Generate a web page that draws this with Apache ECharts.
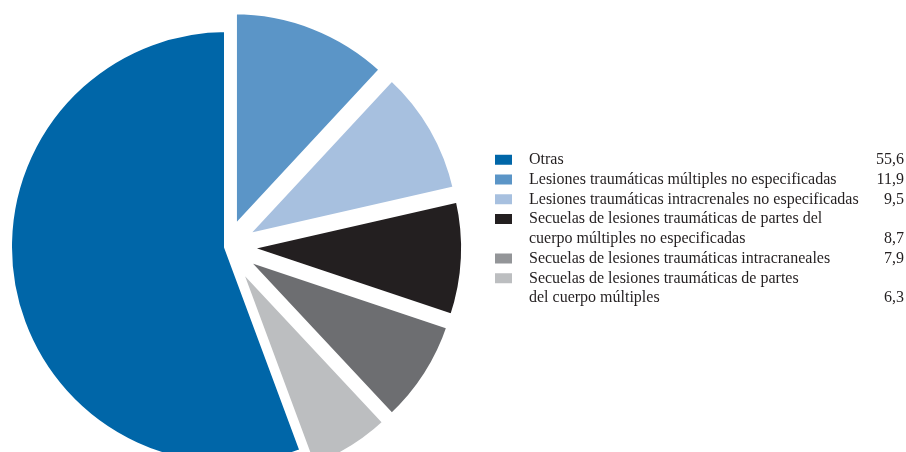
<!DOCTYPE html>
<html>
<head>
<meta charset="utf-8">
<script src="https://cdn.jsdelivr.net/npm/echarts@6/dist/echarts.min.js"></script>
<style>
  html, body { margin: 0; padding: 0; background: #ffffff; }
  #chart { width: 906px; height: 452px; }
</style>
</head>
<body>
<div id="chart"></div>
<script>
// Causes grouped by share (%)
const categories = [
  'Otras',
  'Lesiones traumáticas múltiples no especificadas',
  'Lesiones traumáticas intracrenales no especificadas',
  'Secuelas de lesiones traumáticas de partes del cuerpo múltiples no especificadas',
  'Secuelas de lesiones traumáticas intracraneales',
  'Secuelas de lesiones traumáticas de partes del cuerpo múltiples'
];
const values = [55.6, 11.9, 9.5, 8.7, 7.9, 6.3];
// Legend text split into the lines it is printed on
const legendLines = [
  ['Otras'],
  ['Lesiones traumáticas múltiples no especificadas'],
  ['Lesiones traumáticas intracrenales no especificadas'],
  ['Secuelas de lesiones traumáticas de partes del', 'cuerpo múltiples no especificadas'],
  ['Secuelas de lesiones traumáticas intracraneales'],
  ['Secuelas de lesiones traumáticas de partes', 'del cuerpo múltiples']
];
const sliceColors = ['#0066a8', '#5b95c7', '#a7c0df', '#231f20', '#6d6e71', '#bcbec0'];
const swatchColors = ['#0066a8', '#5b95c7', '#a7c0df', '#231f20', '#939598', '#bcbec0'];
// Slices drawn clockwise from 12 o'clock; "Otras" closes the circle
const pieOrder = [1, 2, 3, 4, 5, 0];

const FONT = '"Liberation Serif", "Times New Roman", serif';
const ROW = 19.75;
const FIRST_ROW = 158.3;

function fmt(v) { return v.toFixed(1).replace('.', ','); }

const pieData = pieOrder.map(i => ({
  name: categories[i],
  value: values[i],
  selected: i !== 0,
  itemStyle: { color: sliceColors[i] }
}));

const legends = [];
let row = 0;
categories.forEach((name, i) => {
  const lines = legendLines[i];
  const two = lines.length > 1;
  const center = FIRST_ROW + row * ROW;
  legends.push({
    left: 493,
    top: center - 6.5,
    orient: 'vertical',
    padding: 0,
    itemWidth: 19,
    itemHeight: 12,
    selectedMode: false,
    icon: 'rect',
    data: [{ name: name, itemStyle: { color: swatchColors[i] } }],
    formatter: function () {
      if (two) {
        return '{n|' + lines[0] + '}\n{n|' + lines[1] + '}{v|' + fmt(values[i]) + '}';
      }
      return '{n|' + lines[0] + '}{v|' + fmt(values[i]) + '}';
    },
    textStyle: {
      padding: two ? [ROW, 0, 0, 11] : [0, 0, 0, 11],
      rich: {
        n: { width: 335, fontFamily: FONT, fontSize: 16, lineHeight: ROW, color: '#231f20' },
        v: { width: 40, align: 'right', fontFamily: FONT, fontSize: 16, lineHeight: ROW, color: '#231f20' }
      }
    }
  });
  row += lines.length;
});

const chart = echarts.init(document.getElementById('chart'), null, { renderer: 'canvas' });
chart.setOption({
  animation: false,
  backgroundColor: '#ffffff',
  legend: legends,
  series: [{
    type: 'pie',
    center: [227, 247],
    radius: 218,
    startAngle: 90,
    clockwise: true,
    selectedMode: 'multiple',
    selectedOffset: 19,
    label: { show: false },
    labelLine: { show: false },
    emphasis: { scale: false },
    itemStyle: { borderColor: '#ffffff', borderWidth: 6 },
    data: pieData
  }]
});
</script>
</body>
</html>
